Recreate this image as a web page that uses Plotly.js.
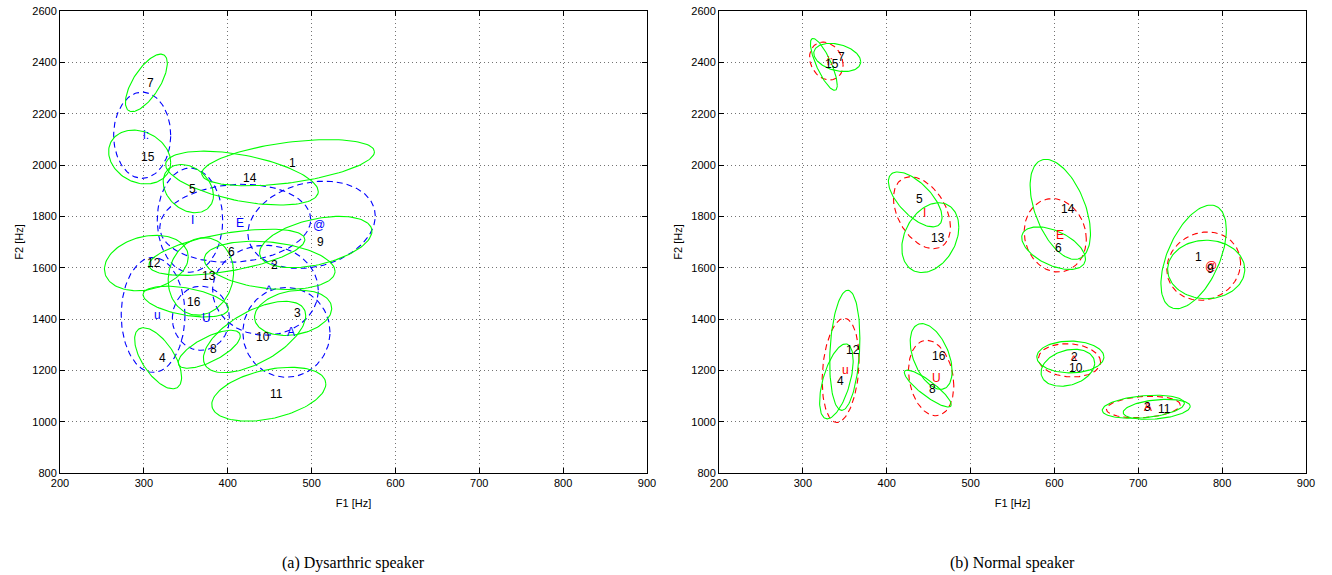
<!DOCTYPE html>
<html>
<head>
<meta charset="utf-8">
<script src="https://cdn.plot.ly/plotly-3.0.1.min.js"></script>
<style>html,body{margin:0;padding:0;background:#fff;}#chart{width:1332px;height:575px;}</style>
</head>
<body>
<div id="chart"></div>
<script>
// ---------- (a) Dysarthric speaker: green solid ellipses (numbered) ----------
const leftGreenLabels = ['1','2','3','4','5','6','7','8','9','10','11','12','13','14','15','16'];
const leftGreenCx  = [472, 450, 478, 317, 353, 399, 303, 378, 505, 432, 449, 303, 368, 417, 295, 350];
const leftGreenCy  = [2009, 1609, 1424, 1247, 1908, 1660, 2320, 1282, 1700, 1330, 1107, 1618, 1566, 1949, 2031, 1468];
const leftGreenRx  = [103, 78, 46, 28, 30, 93, 25, 37, 67, 61, 68, 50, 39, 91, 37, 51];
const leftGreenRy  = [90, 94, 88, 119, 94, 90, 112, 74, 100, 139, 105, 108, 151, 105, 105, 60];
const leftGreenRho = [0.47, -0.25, 0.2, -0.62, -0.28, 0.55, 0.68, 0.7, 0.42, 0.6, 0.38, 0.22, 0.1, -0.5, -0.2, -0.45];

// ---------- (a) Dysarthric speaker: blue dashed ellipses (phonemes) ----------
const leftBlueLabels = ['i:', 'I', 'E', '@', '^', 'A', 'U', 'u'];
const leftBlueCx  = [298, 355, 409, 500, 445, 470, 368, 311];
const leftBlueCy  = [2116, 1785, 1773, 1767, 1512, 1348, 1403, 1416];
const leftBlueRx  = [34, 39, 90, 76, 63, 52, 34, 38];
const leftBlueRy  = [168, 203, 152, 170, 175, 175, 125, 224];
const leftBlueRho = [0, 0, 0.1, 0.2, 0, 0, 0, 0];

// ---------- (b) Normal speaker: green solid ellipses (numbered) ----------
const rightGreenLabels = ['1','2','3','4','5','6','7','8','9','10','11','12','13','14','15','16'];
const rightGreenCx  = [766, 619, 706, 340, 434, 599, 341, 449, 781, 616, 722, 350, 452, 607, 325, 453];
const rightGreenCy  = [1642, 1252, 1058, 1157, 1866, 1676, 2419, 1129, 1593, 1210, 1048, 1278, 1717, 1827, 2392, 1254];
const rightGreenRx  = [39, 40, 49, 20, 32, 38, 28, 28, 46, 32, 40, 18, 34, 36, 16, 25];
const rightGreenRy  = [202, 62, 45, 146, 107, 83, 55, 72, 114, 72, 39, 234, 136, 195, 101, 128];
const rightGreenRho = [0.52, 0, 0.3, 0.55, -0.65, -0.5, -0.3, -0.87, 0, 0.25, 0.3, 0.2, 0.3, -0.48, -0.8, -0.45];

// ---------- (b) Normal speaker: red dashed ellipses (phonemes) ----------
const rightRedLabels = ['i:', 'I', 'E', '@', '^', 'A', 'U', 'u'];
const rightRedCx  = [328, 442, 601, 778, 618, 706, 453, 345];
const rightRedCy  = [2405, 1814, 1726, 1606, 1239, 1057, 1170, 1200];
const rightRedRx  = [20, 34, 37, 44, 37, 44, 27, 22];
const rightRedRy  = [74, 140, 143, 133, 65, 42, 147, 203];
const rightRedRho = [-0.2, -0.4, -0.1, 0.1, -0.1, 0.2, -0.2, 0.2];

// ---------- axes ----------
const xTicks = [200, 300, 400, 500, 600, 700, 800, 900];
const yTicks = [800, 1000, 1200, 1400, 1600, 1800, 2000, 2200, 2400, 2600];
const xTitle = 'F1 [Hz]';
const yTitle = 'F2 [Hz]';
const captions = ['(a) Dysarthric speaker', '(b) Normal speaker'];

// ellipse outline (covariance-style: x half-extent rx, y half-extent ry, correlation rho)
function ellipseGroup(cx, cy, rx, ry, rho) {
  const xs = [], ys = [];
  const N = 120;
  for (let k = 0; k < cx.length; k++) {
    const s = Math.sqrt(1 - rho[k] * rho[k]);
    for (let i = 0; i <= N; i++) {
      const t = 2 * Math.PI * i / N;
      xs.push(cx[k] + rx[k] * Math.cos(t));
      ys.push(cy[k] + ry[k] * (rho[k] * Math.cos(t) + s * Math.sin(t)));
    }
    xs.push(null); ys.push(null);
  }
  return {x: xs, y: ys};
}

function trace(g, xa, ya, color, dash) {
  return {type: 'scatter', mode: 'lines', x: g.x, y: g.y, xaxis: xa, yaxis: ya,
    line: {color: color, width: 1.1, dash: dash}, hoverinfo: 'skip', showlegend: false, connectgaps: false};
}

const traces = [
  trace(ellipseGroup(leftBlueCx, leftBlueCy, leftBlueRx, leftBlueRy, leftBlueRho), 'x', 'y', '#0000ff', '6px,4px'),
  trace(ellipseGroup(leftGreenCx, leftGreenCy, leftGreenRx, leftGreenRy, leftGreenRho), 'x', 'y', '#00ff00', 'solid'),
  trace(ellipseGroup(rightRedCx, rightRedCy, rightRedRx, rightRedRy, rightRedRho), 'x2', 'y2', '#ff0000', '6px,4px'),
  trace(ellipseGroup(rightGreenCx, rightGreenCy, rightGreenRx, rightGreenRy, rightGreenRho), 'x2', 'y2', '#00ff00', 'solid')
];

const annotations = [];
function addLabels(labels, cx, cy, xr, yr, color) {
  for (let k = 0; k < labels.length; k++) {
    annotations.push({x: cx[k], y: cy[k], xref: xr, yref: yr, text: labels[k], showarrow: false,
      xanchor: 'left', yanchor: 'middle', borderpad: 0,
      font: {family: 'Liberation Sans, Arial, sans-serif', size: 12, color: color}});
  }
}
addLabels(leftBlueLabels, leftBlueCx, leftBlueCy, 'x', 'y', '#0000ff');
addLabels(leftGreenLabels, leftGreenCx, leftGreenCy, 'x', 'y', '#000000');
addLabels(rightRedLabels, rightRedCx, rightRedCy, 'x2', 'y2', '#ff0000');
addLabels(rightGreenLabels, rightGreenCx, rightGreenCy, 'x2', 'y2', '#000000');

annotations.push({x: 353 / 1332, y: 1 - 563 / 575, xref: 'paper', yref: 'paper', text: captions[0], showarrow: false,
  xanchor: 'center', yanchor: 'middle', font: {family: 'Liberation Serif, Times New Roman, serif', size: 16, color: '#000'}});
annotations.push({x: 1012 / 1332, y: 1 - 563 / 575, xref: 'paper', yref: 'paper', text: captions[1], showarrow: false,
  xanchor: 'center', yanchor: 'middle', font: {family: 'Liberation Serif, Times New Roman, serif', size: 16, color: '#000'}});

function xAxis(domain, anchor) {
  return {domain: domain, anchor: anchor, range: [200, 900], tickvals: xTicks, ticktext: xTicks.map(String),
    showgrid: true, gridcolor: 'rgba(0,0,0,0.55)', griddash: '1px,3px', gridwidth: 1, zeroline: false,
    showline: true, linecolor: '#000', linewidth: 1, mirror: 'ticks', ticks: 'inside', ticklen: 5, tickcolor: '#000',
    tickfont: {family: 'Liberation Sans, Arial, sans-serif', size: 11, color: '#000'},
    title: {text: xTitle, standoff: 11, font: {family: 'Liberation Sans, Arial, sans-serif', size: 11, color: '#000'}},
    fixedrange: true};
}
function yAxis(domain, anchor) {
  return {domain: domain, anchor: anchor, range: [800, 2600], tickvals: yTicks, ticktext: yTicks.map(String),
    showgrid: true, gridcolor: 'rgba(0,0,0,0.55)', griddash: '1px,3px', gridwidth: 1, zeroline: false,
    showline: true, linecolor: '#000', linewidth: 1, mirror: 'ticks', ticks: 'inside', ticklen: 5, tickcolor: '#000',
    tickfont: {family: 'Liberation Sans, Arial, sans-serif', size: 11, color: '#000'},
    title: {text: yTitle, standoff: 6, font: {family: 'Liberation Sans, Arial, sans-serif', size: 11, color: '#000'}},
    fixedrange: true};
}

const yDom = [1 - 473 / 575, 1 - 11 / 575];
const layout = {
  width: 1332, height: 575,
  margin: {l: 0, r: 0, t: 0, b: 0, pad: 0},
  paper_bgcolor: '#fff', plot_bgcolor: '#fff',
  showlegend: false,
  xaxis: xAxis([60 / 1332, 647 / 1332], 'y'),
  yaxis: yAxis(yDom, 'x'),
  xaxis2: xAxis([719 / 1332, 1306 / 1332], 'y2'),
  yaxis2: yAxis(yDom, 'x2'),
  annotations: annotations
};

Plotly.newPlot('chart', traces, layout, {staticPlot: true, displayModeBar: false});
</script>
</body>
</html>
